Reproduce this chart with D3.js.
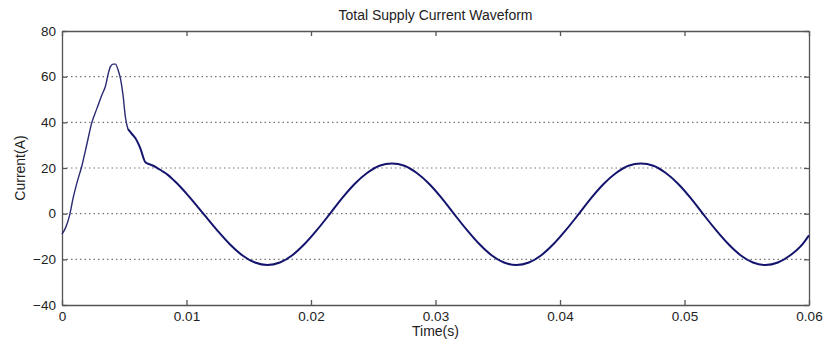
<!DOCTYPE html>
<html>
<head>
<meta charset="utf-8">
<script src="https://cdn.jsdelivr.net/npm/d3@7"></script>
<style>
  body { margin: 0; background: #fff; }
  text { font-family: "Liberation Sans", Arial, sans-serif; fill: #222; }
</style>
</head>
<body>
<div id="chart"></div>
<script>
// time (s) and supply current (A)
var times = [0, 0.0003, 0.0006, 0.0009, 0.0012, 0.0016, 0.002, 0.0024, 0.0028, 0.0032, 0.0035, 0.0037, 0.0039,
  0.0041, 0.0043, 0.0045, 0.0047, 0.0049, 0.0051, 0.0053, 0.0056, 0.0059, 0.0063, 0.0067,
  0.0072, 0.0076, 0.008, 0.0085, 0.009, 0.0095, 0.0100, 0.0105, 0.011, 0.0115,
  0.0125, 0.0135, 0.0145, 0.0155, 0.0165, 0.0175, 0.0185, 0.0195, 0.0205, 0.0215,
  0.0225, 0.0235, 0.0245, 0.0255, 0.0265, 0.0275, 0.0285, 0.0295, 0.0305, 0.0315,
  0.0325, 0.0335, 0.0345, 0.0355, 0.0365, 0.0375, 0.0385, 0.0395, 0.0405, 0.0415,
  0.0425, 0.0435, 0.0445, 0.0455, 0.0465, 0.0475, 0.0485, 0.0495, 0.0505, 0.0515,
  0.0525, 0.0535, 0.0545, 0.0555, 0.0565, 0.0575, 0.0585, 0.0595, 0.06];
var current = [-9, -6, -1, 7, 13.5, 21, 30.5, 40, 46, 52, 56, 61, 64.5,
  65.5, 65.5, 63, 59, 52, 42, 37, 35, 33, 28.5, 22.5,
  21.3, 20.2, 18.8, 17, 14.5, 11.8, 8.8, 5.6, 2.3, -1,
  -7.5, -13.5, -18.3, -21.4, -22.5, -21.4, -18.2, -13.2, -7, -0.2,
  6.8, 13, 17.8, 21, 22, 21, 17.8, 13, 6.8, -0.2,
  -7, -13.2, -18.2, -21.4, -22.5, -21.4, -18.2, -13.2, -7, -0.2,
  6.8, 13, 17.8, 21, 22, 21, 17.8, 13, 6.8, -0.2,
  -7, -13.2, -18.2, -21.4, -22.5, -21.4, -18.2, -13.2, -9.5];

var xTicks = [0, 0.01, 0.02, 0.03, 0.04, 0.05, 0.06];
var yTicks = [-40, -20, 0, 20, 40, 60, 80];

var width = 827, height = 344;
var margin = {left: 62, right: 18, top: 31, bottom: 39};
var plotW = width - margin.left - margin.right,
    plotH = height - margin.top - margin.bottom;

var svg = d3.select("#chart")
            .append("svg")
            .attr("width", width)
            .attr("height", height);

var g = svg.append("g")
           .attr("transform", "translate(" + margin.left + "," + margin.top + ")");

var xScale = d3.scaleLinear().domain([0, 0.06]).range([0, plotW]);
var yScale = d3.scaleLinear().domain([-40, 80]).range([plotH, 0]);

// dotted horizontal grid
g.selectAll(".grid")
 .data(yTicks.filter(function(d) { return d > -40 && d < 80; }))
 .enter()
 .append("line")
 .attr("class", "grid")
 .attr("x1", 0)
 .attr("x2", plotW)
 .attr("y1", function(d) { return yScale(d); })
 .attr("y2", function(d) { return yScale(d); })
 .style("stroke", "#777")
 .style("stroke-width", 1.2)
 .style("stroke-dasharray", "1.5,3");

// axes with inward ticks, mirrored on top/right
function styleAxis(sel) {
  sel.selectAll("path").style("stroke", "#555").style("stroke-width", 1.3);
  sel.selectAll("line").style("stroke", "#555").style("stroke-width", 1.3);
  sel.selectAll("text").style("font-size", "13.5px").style("fill", "#222")
     .style("font-family", "Liberation Sans, Arial, sans-serif");
}

g.append("g")
 .attr("transform", "translate(0," + plotH + ")")
 .call(d3.axisBottom(xScale).tickValues(xTicks).tickSizeInner(-5).tickSizeOuter(0)
        .tickPadding(6).tickFormat(function(d) { return d3.format("")(+d.toFixed(2)); }))
 .call(styleAxis);

g.append("g")
 .call(d3.axisLeft(yScale).tickValues(yTicks).tickSizeInner(-5).tickSizeOuter(0)
        .tickPadding(6))
 .call(styleAxis);

g.append("g")
 .call(d3.axisTop(xScale).tickValues(xTicks).tickSizeInner(-5).tickSizeOuter(0).tickFormat(""))
 .call(styleAxis);

g.append("g")
 .attr("transform", "translate(" + plotW + ",0)")
 .call(d3.axisRight(yScale).tickValues(yTicks).tickSizeInner(-5).tickSizeOuter(0).tickFormat(""))
 .call(styleAxis);

// current waveform: thin early transient, heavier steady part
var line = d3.line()
             .x(function(d) { return xScale(times[d]); })
             .y(function(d) { return yScale(current[d]); })
             .curve(d3.curveMonotoneX);

var idx = d3.range(times.length);
var split = times.indexOf(0.0053);

g.append("path")
 .datum(idx.slice(0, split + 1))
 .attr("d", line)
 .style("fill", "none")
 .style("stroke", "#2a2a72")
 .style("stroke-width", 1.4);

g.append("path")
 .datum(idx.slice(split))
 .attr("d", line)
 .style("fill", "none")
 .style("stroke", "#14146e")
 .style("stroke-width", 2);

// title and labels
svg.append("text")
   .attr("x", margin.left + plotW / 2)
   .attr("y", 20)
   .style("text-anchor", "middle")
   .style("font-size", "14px")
   .text("Total Supply Current Waveform");

svg.append("text")
   .attr("x", margin.left + plotW / 2)
   .attr("y", 336)
   .style("text-anchor", "middle")
   .style("font-size", "14px")
   .text("Time(s)");

svg.append("text")
   .attr("transform", "translate(25," + (margin.top + plotH / 2) + ") rotate(-90)")
   .style("text-anchor", "middle")
   .style("font-size", "14px")
   .text("Current(A)");
</script>
</body>
</html>
